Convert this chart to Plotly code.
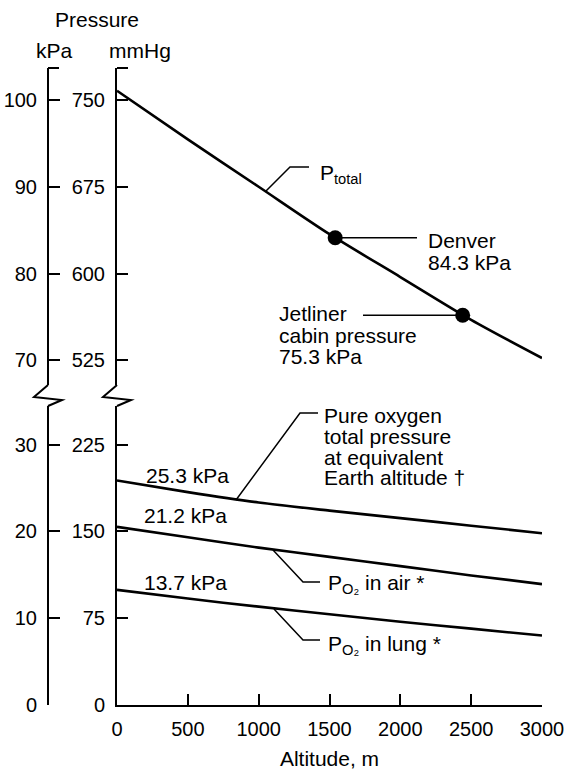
import plotly.graph_objects as go

# ---------------- data ----------------
altitude_m = [0, 500, 1000, 1500, 2000, 2500, 3000]
p_total_mmhg = [758, 716, 675, 634, 597, 560, 527]
p_pure_o2_mmhg = [194, 184, 175, 168, 161.5, 155, 148.5]
p_o2_air_mmhg = [154, 145, 136, 128, 120, 112, 104.5]
p_o2_lung_mmhg = [99.5, 92, 85, 78.5, 72, 66, 60]

site_names = ["Denver", "Jetliner cabin"]
site_altitude_m = [1540, 2440]
site_mmhg = [631, 564]

x_ticks = [0, 500, 1000, 1500, 2000, 2500, 3000]
mmhg_ticks_low = [0, 75, 150, 225]
mmhg_ticks_high = [525, 600, 675, 750]
kpa_ticks_low = [0, 10, 20, 30]
kpa_ticks_high = [70, 80, 90, 100]
MMHG_PER_KPA = 7.5

# ---------------- layout geometry ----------------
W, H = 567, 770
ML, MR, MT, MB = 30, 25, 68, 65
PW = W - ML - MR
PH = H - MT - MB
X0_PX = 117          # left edge of plotting area (mmHg axis)
KPA_AXIS_PX = 48
Y0_PX = H - MB       # baseline pixel
LOW_TOP_PX = 406
HIGH_BOT_PX = 385
PX_PER_MMHG = 1.157


def px(x, y):
    return (x - ML) / PW, (Y0_PX - y) / PH


low_range = [0, (Y0_PX - LOW_TOP_PX) / PX_PER_MMHG]
high_range = [750 - (HIGH_BOT_PX - 100) / PX_PER_MMHG, 750 + (100 - MT) / PX_PER_MMHG]

FONT = "Liberation Sans, Arial, Helvetica, sans-serif"
FS_TICK = 20
FS = 21
LW = 2.6

fig = go.Figure()

line_style = dict(color="black", width=LW, shape="spline", smoothing=0.8)
fig.add_trace(go.Scatter(x=altitude_m, y=p_total_mmhg, mode="lines", line=line_style,
                         yaxis="y2", name="P total", showlegend=False, hoverinfo="skip"))
fig.add_trace(go.Scatter(x=altitude_m, y=p_pure_o2_mmhg, mode="lines", line=line_style,
                         yaxis="y", name="Pure oxygen", showlegend=False, hoverinfo="skip"))
fig.add_trace(go.Scatter(x=altitude_m, y=p_o2_air_mmhg, mode="lines", line=line_style,
                         yaxis="y", name="PO2 air", showlegend=False, hoverinfo="skip"))
fig.add_trace(go.Scatter(x=altitude_m, y=p_o2_lung_mmhg, mode="lines", line=line_style,
                         yaxis="y", name="PO2 lung", showlegend=False, hoverinfo="skip"))
fig.add_trace(go.Scatter(x=site_altitude_m, y=site_mmhg, mode="markers",
                         marker=dict(color="black", size=15), text=site_names,
                         yaxis="y2", showlegend=False, hoverinfo="skip"))
# kPa axes (carry converted values, invisible)
fig.add_trace(go.Scatter(x=altitude_m, y=[v / MMHG_PER_KPA for v in p_o2_air_mmhg],
                         mode="lines", line=dict(width=0), opacity=0,
                         yaxis="y3", showlegend=False, hoverinfo="skip"))
fig.add_trace(go.Scatter(x=altitude_m, y=[v / MMHG_PER_KPA for v in p_total_mmhg],
                         mode="lines", line=dict(width=0), opacity=0,
                         yaxis="y4", showlegend=False, hoverinfo="skip"))

axis_common = dict(showline=True, linecolor="black", linewidth=2, showgrid=False,
                   zeroline=False, ticks="inside", ticklen=11, tickwidth=2,
                   tickcolor="black", tickfont=dict(family=FONT, size=FS_TICK, color="black"),
                   fixedrange=True, automargin=False)

x_dom0 = (X0_PX - ML) / PW
low_dom = [0, (Y0_PX - LOW_TOP_PX) / PH]
high_dom = [(Y0_PX - HIGH_BOT_PX) / PH, 1]

fig.update_layout(
    width=W, height=H,
    margin=dict(l=ML, r=MR, t=MT, b=MB, autoexpand=False),
    paper_bgcolor="white", plot_bgcolor="white",
    font=dict(family=FONT, size=FS, color="black"),
    showlegend=False,
    xaxis=dict(axis_common, domain=[x_dom0, 1], range=[0, 3000], anchor="y",
               tickvals=x_ticks, ticklabelstandoff=5,
               title=dict(text="Altitude, m", standoff=16,
                          font=dict(family=FONT, size=FS, color="black"))),
    yaxis=dict(axis_common, domain=low_dom, range=low_range, anchor="x",
               tickvals=mmhg_ticks_low, ticklabelstandoff=6),
    yaxis2=dict(axis_common, domain=high_dom, range=high_range, anchor="x",
                tickvals=mmhg_ticks_high, ticklabelstandoff=6),
    yaxis3=dict(axis_common, overlaying="y", anchor="free",
                position=(KPA_AXIS_PX - ML) / PW, side="left",
                range=[r / MMHG_PER_KPA for r in low_range],
                tickvals=kpa_ticks_low, ticklabelstandoff=6),
    yaxis4=dict(axis_common, overlaying="y2", anchor="free",
                position=(KPA_AXIS_PX - ML) / PW, side="left",
                range=[r / MMHG_PER_KPA for r in high_range],
                tickvals=kpa_ticks_high, ticklabelstandoff=6),
)

shapes = []
# axis breaks (zig-zags) and top caps
for ax in (KPA_AXIS_PX, X0_PX):
    pts = [px(ax, HIGH_BOT_PX), px(ax - 14, 397), px(ax + 14, 400), px(ax, LOW_TOP_PX)]
    path = "M " + " L ".join(f"{a:.5f},{b:.5f}" for a, b in pts)
    shapes.append(dict(type="path", path=path, xref="paper", yref="paper",
                       line=dict(color="black", width=2)))
    a, b = px(ax, MT)
    c, d = px(ax + 11, MT)
    shapes.append(dict(type="line", x0=a, y0=b, x1=c, y1=d, xref="paper", yref="paper",
                       line=dict(color="black", width=2)))


def leader(points, yref):
    path = "M " + " L ".join(f"{a},{b}" for a, b in points)
    shapes.append(dict(type="path", path=path, xref="x", yref=yref,
                       line=dict(color="black", width=1.5)))


def m_at(xpx):
    return (xpx - X0_PX) / (425 / 3000)


def hi(ypx):
    return 750 - (ypx - 100) / PX_PER_MMHG


def lo(ypx):
    return (Y0_PX - ypx) / PX_PER_MMHG


# P total leader
leader([(m_at(266), hi(191)), (m_at(290), hi(167)), (m_at(309), hi(167))], "y2")
# Denver leader
leader([(site_altitude_m[0], site_mmhg[0]), (m_at(417), site_mmhg[0])], "y2")
# Jetliner leader
leader([(m_at(363), site_mmhg[1]), (site_altitude_m[1], site_mmhg[1])], "y2")
# pure oxygen leader
leader([(m_at(236), lo(500)), (m_at(300), lo(413)), (m_at(318), lo(413))], "y")
# PO2 in air leader
leader([(m_at(273), lo(550)), (m_at(303), lo(582)), (m_at(320), lo(582))], "y")
# PO2 in lung leader
leader([(m_at(274), lo(609)), (m_at(303), lo(640)), (m_at(320), lo(640))], "y")

fig.update_layout(shapes=shapes)

annots = []


def label(text, xpx, ypx, xanchor="left"):
    x, y = px(xpx, ypx)
    annots.append(dict(text=text, x=x, y=y, xref="paper", yref="paper",
                       xanchor=xanchor, yanchor="middle", showarrow=False,
                       font=dict(family=FONT, size=FS, color="black")))


label("Pressure", 97, 20, "center")
label("kPa", 54, 51, "center")
label("mmHg", 140, 51, "center")
label("P<sub>total</sub>", 318, 174)
label("Denver", 426, 240)
label("84.3 kPa", 426, 262)
label("Jetliner", 277, 313)
label("cabin pressure", 277, 335)
label("75.3 kPa", 277, 356)
label("Pure oxygen", 322, 415)
label("total pressure", 322, 436)
label("at equivalent", 322, 457)
label("Earth altitude †", 322, 477)
label("25.3 kPa", 144, 475)
label("21.2 kPa", 142, 515)
label("13.7 kPa", 142, 582)
label("P<sub>O₂</sub> in air *", 326, 584)
label("P<sub>O₂</sub> in lung *", 326, 645)

fig.update_layout(annotations=annots)

fig.write_html("out.html")
